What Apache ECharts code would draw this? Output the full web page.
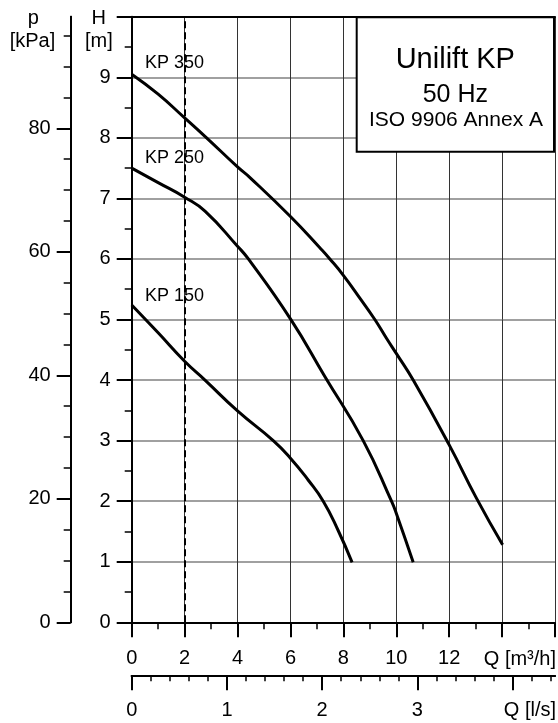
<!DOCTYPE html>
<html><head><meta charset="utf-8">
<script src="https://cdn.jsdelivr.net/npm/echarts@6/dist/echarts.min.js"></script>
<style>html,body{margin:0;padding:0;background:#fff}#c{width:558px;height:723px}</style>
</head><body><div id="c"></div>
<script>
// ---- data ----
const qKP350 = [0, 1, 2, 2.83, 4, 4.48, 6, 7.12, 7.49, 8, 8.63, 9.19, 9.63, 10, 10.64, 12, 13.03, 14.02];
const hKP350 = [9.05, 8.72, 8.33, 8.0, 7.52, 7.34, 6.70, 6.18, 6.0, 5.73, 5.35, 5.0, 4.69, 4.44, 4.0, 2.93, 2.05, 1.28];
const qKP250 = [0, 1, 2, 2.77, 4, 4.41, 6, 7.3, 8.75, 9.82, 10, 10.64];
const hKP250 = [7.50, 7.26, 7.02, 6.79, 6.21, 6.0, 5.01, 4.06, 3.0, 2.0, 1.80, 0.99];
const qKP150 = [0, 1, 2, 2.77, 4, 5.35, 6, 6.67, 7.24, 7.8, 8.33];
const hKP150 = [5.24, 4.78, 4.31, 4.0, 3.49, 3.0, 2.71, 2.35, 2.0, 1.52, 0.99];
const curveNames = ['KP 350', 'KP 250', 'KP 150'];
const labelQ = [0.5, 0.5, 0.5];
const labelH = [9.23, 7.66, 5.39];
const dashedQ = 2;
const lsMajorTicks = [0, 1, 2, 3, 4];
const lsLabels = [0, 1, 2, 3];
const lsMinorTicks = [0.2,0.4,0.6,0.8,1.2,1.4,1.6,1.8,2.2,2.4,2.6,2.8,3.2,3.4,3.6,3.8,4.2,4.4];
const pMajorTicks = [0, 20, 40, 60, 80];
const pMinorTicks = [5,10,15,25,30,35,45,50,55,65,70,75,85,90,95];
const titleLines = ['Unilift KP', '50 Hz', 'ISO 9906 Annex A'];
const qMax = 16, hMax = 10;
const lsMax = qMax / 3.6;      // m³/h -> l/s
const pMax = hMax * 9.807;     // m -> kPa

const FONT = '"Liberation Sans", Arial, Helvetica, sans-serif';
const zip = (a, b) => a.map((v, i) => [v, b[i]]);
const black2 = { color: '#000', width: 2 };
const lbl = (o) => Object.assign({ color: '#000', fontSize: 20, fontFamily: FONT }, o);
const curve = (i, q, h) => ({ name: curveNames[i], type: 'line', xAxisIndex: 0, yAxisIndex: 0,
  data: zip(q, h), smooth: 0.5, symbol: 'none',
  lineStyle: { color: '#000', width: 3 }, z: 5 });

const chart = echarts.init(document.getElementById('c'), null, { renderer: 'canvas' });
const s0 = curve(0, qKP350, hKP350);
s0.markLine = { silent: true, symbol: ['none', 'none'], label: { show: false },
  lineStyle: { color: '#000', width: 2, type: [7, 4] }, data: [{ xAxis: dashedQ }] };
chart.setOption({
  animation: false,
  backgroundColor: '#fff',
  grid: { left: 131.7, top: 16.7, right: 3, bottom: 100.7, outerBoundsMode: 'none', containLabel: false },
  xAxis: [
    { type: 'value', position: 'bottom', min: 0, max: qMax, interval: 2,
      axisLine: { show: true, onZero: false, lineStyle: black2 },
      axisTick: { show: true, length: 15, lineStyle: black2 },
      minorTick: { show: true, splitNumber: 2, length: 7, lineStyle: { color: '#000', width: 1.5 } },
      axisLabel: lbl({ margin: 26, formatter: v => v >= 14 ? '' : String(v) }),
      splitLine: { show: true, lineStyle: { color: '#333', width: 1 } },
      minorSplitLine: { show: false } },
    { type: 'value', position: 'bottom', offset: 53, min: 0, max: lsMax, interval: 1,
      axisLine: { show: true, onZero: false, lineStyle: black2 },
      axisTick: { show: true, length: 15, customValues: lsMajorTicks, lineStyle: black2 },
      axisLabel: lbl({ margin: 25, customValues: lsLabels }),
      splitLine: { show: false } },
    { type: 'value', position: 'bottom', offset: 53, min: 0, max: lsMax, interval: 0.2,
      axisLine: { show: true, onZero: false, lineStyle: black2 },
      axisTick: { show: true, length: 6, customValues: lsMinorTicks, lineStyle: { color: '#000', width: 1.5 } },
      axisLabel: { show: false },
      splitLine: { show: false } },
    { type: 'value', position: 'top', min: 0, max: qMax, interval: 2,
      axisLine: { show: true, onZero: false, lineStyle: black2 },
      axisTick: { show: false }, axisLabel: { show: false }, splitLine: { show: false } }
  ],
  yAxis: [
    { type: 'value', position: 'left', min: 0, max: hMax, interval: 1,
      axisLine: { show: true, onZero: false, lineStyle: black2 },
      axisTick: { show: true, length: 15, lineStyle: black2 },
      minorTick: { show: true, splitNumber: 2, length: 7, lineStyle: { color: '#000', width: 1.5 } },
      axisLabel: lbl({ margin: 21, formatter: v => v >= 10 ? '' : String(v) }),
      splitLine: { show: true, lineStyle: { color: '#808080', width: 1.5 } },
      minorSplitLine: { show: false } },
    { type: 'value', position: 'left', offset: 61, min: 0, max: pMax, interval: 20,
      axisLine: { show: true, onZero: false, lineStyle: black2 },
      axisTick: { show: true, length: 14, customValues: pMajorTicks, lineStyle: black2 },
      axisLabel: lbl({ margin: 20, customValues: pMajorTicks }),
      splitLine: { show: false } },
    { type: 'value', position: 'left', offset: 61, min: 0, max: pMax, interval: 5,
      axisLine: { show: true, onZero: false, lineStyle: black2 },
      axisTick: { show: true, length: 7, customValues: pMinorTicks, lineStyle: { color: '#000', width: 1.5 } },
      axisLabel: { show: false },
      splitLine: { show: false } }
  ],
  series: [
    s0,
    curve(1, qKP250, hKP250),
    curve(2, qKP150, hKP150),
    { name: 'labels', type: 'scatter', xAxisIndex: 0, yAxisIndex: 0, symbolSize: 0, z: 10, zlevel: 1,
      itemStyle: { opacity: 1 },
      data: curveNames.map((n, i) => ({ name: n, value: [labelQ[i], labelH[i]] })),
      label: { show: true, position: 'right', distance: 0, formatter: p => p.name, opacity: 1,
        color: '#000', fontSize: 18, fontFamily: FONT } }
  ],
  graphic: [
    { type: 'rect', z: 100, shape: { x: 356.7, y: 17.3, width: 197.3, height: 134.4 },
      style: { fill: '#fff', stroke: '#000', lineWidth: 2 } },
    { type: 'text', z: 101, x: 455.3, y: 59.7, style: { text: titleLines[0], fill: '#000', fontSize: 29, fontFamily: FONT, align: 'center', verticalAlign: 'middle' } },
    { type: 'text', z: 101, x: 455.3, y: 94.7, style: { text: titleLines[1], fill: '#000', fontSize: 25, fontFamily: FONT, align: 'center', verticalAlign: 'middle' } },
    { type: 'text', z: 101, x: 456, y: 120.5, style: { text: titleLines[2], fill: '#000', fontSize: 21, fontFamily: FONT, align: 'center', verticalAlign: 'middle' } },
    { type: 'text', x: 98.8, y: 18, style: { text: 'H', fill: '#000', fontSize: 20, fontFamily: FONT, align: 'center', verticalAlign: 'middle' } },
    { type: 'text', x: 98.8, y: 41, style: { text: '[m]', fill: '#000', fontSize: 20, fontFamily: FONT, align: 'center', verticalAlign: 'middle' } },
    { type: 'text', x: 33.3, y: 18, style: { text: 'p', fill: '#000', fontSize: 20, fontFamily: FONT, align: 'center', verticalAlign: 'middle' } },
    { type: 'text', x: 32.5, y: 41, style: { text: '[kPa]', fill: '#000', fontSize: 20, fontFamily: FONT, align: 'center', verticalAlign: 'middle' } },
    { type: 'text', x: 556, y: 659.3, style: { text: 'Q [m³/h]', fill: '#000', fontSize: 20, fontFamily: FONT, align: 'right', verticalAlign: 'middle' } },
    { type: 'text', x: 556, y: 710.7, style: { text: 'Q [l/s]', fill: '#000', fontSize: 20, fontFamily: FONT, align: 'right', verticalAlign: 'middle' } }
  ]
});
</script></body></html>
